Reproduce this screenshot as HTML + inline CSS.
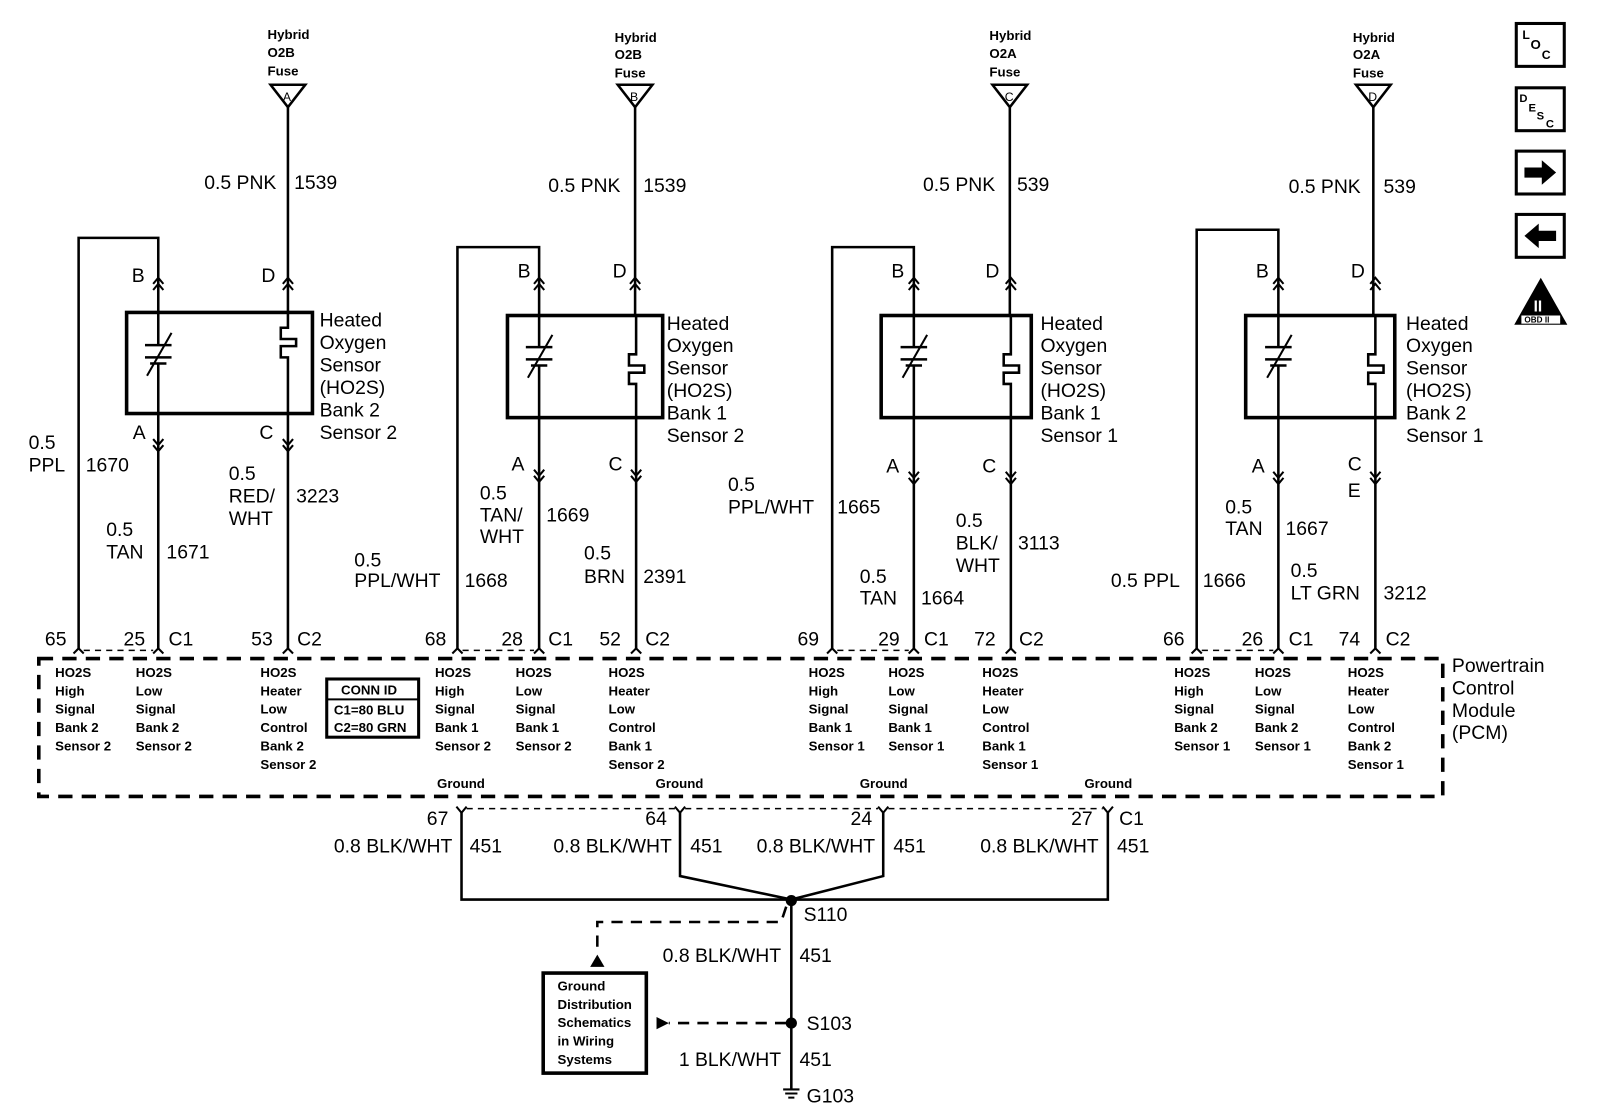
<!DOCTYPE html>
<html><head><meta charset="utf-8"><style>
html,body{margin:0;padding:0;background:#fff;}
svg{display:block;}
text{font-family:"Liberation Sans",Arial,sans-serif;fill:#000;}
.w{font-size:19px;}
.s{font-size:13px;font-weight:bold;}
.f{font-size:13px;font-weight:bold;}
</style></head><body>
<svg width="1600" height="1116" viewBox="0 0 1567 1093" preserveAspectRatio="none" xmlns="http://www.w3.org/2000/svg">
<g fill="none" stroke="#000" stroke-width="2.5">
<polygon points="265,83 299,83 282,105"/><line x1="282" y1="105" x2="282" y2="306"/>
<polygon points="605,83 639,83 622,105"/><line x1="622" y1="105" x2="622" y2="309"/>
<polygon points="972,83 1006,83 989,105"/><line x1="989" y1="105" x2="989" y2="309"/>
<polygon points="1328,83 1362,83 1345,105"/><line x1="1345" y1="105" x2="1345" y2="309"/>

<path d="M77,635 V233 H155 V272"/>
<rect x="124" y="306" width="182" height="99" stroke-width="3.5"/>
<path d="M155,272 V338 M142,338 H168 M142,350 H168 M147,356 H163 M155,356 V635"/>
<path d="M144,368 L168,326" stroke-width="2"/>
<path d="M282,306 V321 H275 V332 H290 V339 H275 V350 H282 V635"/>

<path d="M448,635 V242 H528 V272"/>
<rect x="497" y="309" width="152" height="100" stroke-width="3.5"/>
<path d="M528,272 V340 M515,340 H541 M515,352 H541 M520,358 H536 M528,358 V635"/>
<path d="M517,370 L541,328" stroke-width="2"/>
<path d="M623,309 V347 H616 V358 H631 V365 H616 V376 H623 V635"/>

<path d="M815,635 V242 H895 V272"/>
<rect x="863" y="309" width="147" height="100" stroke-width="3.5"/>
<path d="M895,272 V340 M882,340 H908 M882,352 H908 M887,358 H903 M895,358 V635"/>
<path d="M884,370 L908,328" stroke-width="2"/>
<path d="M990,309 V347 H983 V358 H998 V365 H983 V376 H990 V635"/>

<path d="M1172,635 V225 H1252 V272"/>
<rect x="1220" y="309" width="146" height="100" stroke-width="3.5"/>
<path d="M1252,272 V340 M1239,340 H1265 M1239,352 H1265 M1244,358 H1260 M1252,358 V635"/>
<path d="M1241,370 L1265,328" stroke-width="2"/>
<path d="M1347,309 V347 H1340 V358 H1355 V365 H1340 V376 H1347 V635"/>

<g stroke-width="2">
<path d="M150,278 l5,-6 5,6 M150,284 l5,-6 5,6 M277,278 l5,-6 5,6 M277,284 l5,-6 5,6"/>
<path d="M523,278 l5,-6 5,6 M523,284 l5,-6 5,6 M617,278 l5,-6 5,6 M617,284 l5,-6 5,6"/>
<path d="M890,278 l5,-6 5,6 M890,284 l5,-6 5,6 M985,278 l5,-6 5,6 M985,284 l5,-6 5,6"/>
<path d="M1247,278 l5,-6 5,6 M1247,284 l5,-6 5,6 M1342,278 l5,-6 5,6 M1342,284 l5,-6 5,6"/>
<path d="M150,430 l5,6 5,-6 M150,436 l5,6 5,-6 M277,430 l5,6 5,-6 M277,436 l5,6 5,-6"/>
<path d="M523,460 l5,6 5,-6 M523,466 l5,6 5,-6 M618,460 l5,6 5,-6 M618,466 l5,6 5,-6"/>
<path d="M890,462 l5,6 5,-6 M890,468 l5,6 5,-6 M985,462 l5,6 5,-6 M985,468 l5,6 5,-6"/>
<path d="M1247,462 l5,6 5,-6 M1247,468 l5,6 5,-6 M1342,462 l5,6 5,-6 M1342,468 l5,6 5,-6"/>
<path d="M72,640 l5,-5 5,5 M150,640 l5,-5 5,5 M277,640 l5,-5 5,5"/>
<path d="M443,640 l5,-5 5,5 M523,640 l5,-5 5,5 M618,640 l5,-5 5,5"/>
<path d="M810,640 l5,-5 5,5 M890,640 l5,-5 5,5 M985,640 l5,-5 5,5"/>
<path d="M1167,640 l5,-5 5,5 M1247,640 l5,-5 5,5 M1342,640 l5,-5 5,5"/>
<path d="M447,790 l5,6 5,-6 M661,790 l5,6 5,-6 M860,790 l5,6 5,-6 M1080,790 l5,6 5,-6"/>
</g>
<g stroke-width="1.5" stroke-dasharray="6,5">
<path d="M82,637 H150 M453,637 H523 M820,637 H890 M1177,637 H1247"/>
<path d="M457,792 H661 M671,792 H860 M870,792 H1080"/>
</g>
<rect x="38" y="645" width="1375" height="135" stroke-width="3.5" stroke-dasharray="14,9"/>
<rect x="320" y="665" width="90" height="57" stroke-width="3"/>
<line x1="320" y1="685" x2="410" y2="685" stroke-width="2"/>
<path d="M452,796 V881 H1085 V796"/>
<path d="M666,796 V858 L775,881 L865,858 V796"/>
<line x1="775" y1="881" x2="775" y2="1068"/>
<path d="M770,888 L765,903 H585 V935" stroke-width="2.5" stroke-dasharray="11,8"/>
<path d="M770,1002 H655" stroke-width="2.5" stroke-dasharray="11,8"/>
<rect x="532" y="953" width="101" height="98" stroke-width="3.5"/>
</g>
<g fill="#000">
<circle cx="775" cy="882" r="5.5"/><circle cx="775" cy="1002" r="5.5"/>
<polygon points="578,947 592,947 585,935"/>
<polygon points="643,996 643,1008 655,1002"/>
<path d="M767,1066 h16 v2 h-16z M769,1070 h12 v2 h-12z M772,1074 h6 v2 h-6z"/>
</g>
<g class="f">
<text x="262" y="38">Hybrid</text><text x="262" y="56">O2B</text><text x="262" y="74">Fuse</text><text x="277" y="99" font-size="12" font-weight="normal">A</text>
<text x="602" y="41">Hybrid</text><text x="602" y="58">O2B</text><text x="602" y="76">Fuse</text><text x="617" y="99" font-size="12" font-weight="normal">B</text>
<text x="969" y="39">Hybrid</text><text x="969" y="57">O2A</text><text x="969" y="75">Fuse</text><text x="984" y="99" font-size="12" font-weight="normal">C</text>
<text x="1325" y="41">Hybrid</text><text x="1325" y="58">O2A</text><text x="1325" y="76">Fuse</text><text x="1340" y="99" font-size="12" font-weight="normal">D</text>
</g>
<g class="w">
<text x="200" y="185">0.5 PNK</text><text x="288" y="185">1539</text>
<text x="537" y="188">0.5 PNK</text><text x="630" y="188">1539</text>
<text x="904" y="187">0.5 PNK</text><text x="996" y="187">539</text>
<text x="1262" y="189">0.5 PNK</text><text x="1355" y="189">539</text>

<text x="129" y="276">B</text><text x="256" y="276">D</text><text x="130" y="430">A</text><text x="254" y="430">C</text>
<text x="507" y="272">B</text><text x="600" y="272">D</text><text x="501" y="461">A</text><text x="596" y="461">C</text>
<text x="873" y="272">B</text><text x="965" y="272">D</text><text x="868" y="463">A</text><text x="962" y="463">C</text>
<text x="1230" y="272">B</text><text x="1323" y="272">D</text><text x="1226" y="463">A</text><text x="1320" y="461">C</text><text x="1320" y="487">E</text>

<text x="313" y="320">Heated</text><text x="313" y="342">Oxygen</text><text x="313" y="364">Sensor</text><text x="313" y="386">(HO2S)</text><text x="313" y="408">Bank 2</text><text x="313" y="430">Sensor 2</text>
<text x="653" y="323">Heated</text><text x="653" y="345">Oxygen</text><text x="653" y="367">Sensor</text><text x="653" y="389">(HO2S)</text><text x="653" y="411">Bank 1</text><text x="653" y="433">Sensor 2</text>
<text x="1019" y="323">Heated</text><text x="1019" y="345">Oxygen</text><text x="1019" y="367">Sensor</text><text x="1019" y="389">(HO2S)</text><text x="1019" y="411">Bank 1</text><text x="1019" y="433">Sensor 1</text>
<text x="1377" y="323">Heated</text><text x="1377" y="345">Oxygen</text><text x="1377" y="367">Sensor</text><text x="1377" y="389">(HO2S)</text><text x="1377" y="411">Bank 2</text><text x="1377" y="433">Sensor 1</text>

<text x="28" y="440">0.5</text><text x="28" y="462">PPL</text><text x="84" y="462">1670</text>
<text x="104" y="525">0.5</text><text x="104" y="547">TAN</text><text x="163" y="547">1671</text>
<text x="224" y="470">0.5</text><text x="224" y="492">RED/</text><text x="224" y="514">WHT</text><text x="290" y="492">3223</text>

<text x="470" y="489">0.5</text><text x="470" y="511">TAN/</text><text x="470" y="532">WHT</text><text x="535" y="511">1669</text>
<text x="347" y="555">0.5</text><text x="347" y="575">PPL/WHT</text><text x="455" y="575">1668</text>
<text x="572" y="548">0.5</text><text x="572" y="571">BRN</text><text x="630" y="571">2391</text>

<text x="713" y="481">0.5</text><text x="713" y="503">PPL/WHT</text><text x="820" y="503">1665</text>
<text x="936" y="516">0.5</text><text x="936" y="538">BLK/</text><text x="936" y="560">WHT</text><text x="997" y="538">3113</text>
<text x="842" y="571">0.5</text><text x="842" y="592">TAN</text><text x="902" y="592">1664</text>

<text x="1200" y="503">0.5</text><text x="1200" y="524">TAN</text><text x="1259" y="524">1667</text>
<text x="1088" y="575">0.5 PPL</text><text x="1178" y="575">1666</text>
<text x="1264" y="565">0.5</text><text x="1264" y="587">LT GRN</text><text x="1355" y="587">3212</text>

<text x="44" y="632">65</text><text x="121" y="632">25</text><text x="165" y="632">C1</text><text x="246" y="632">53</text><text x="291" y="632">C2</text>
<text x="416" y="632">68</text><text x="491" y="632">28</text><text x="537" y="632">C1</text><text x="587" y="632">52</text><text x="632" y="632">C2</text>
<text x="781" y="632">69</text><text x="860" y="632">29</text><text x="905" y="632">C1</text><text x="954" y="632">72</text><text x="998" y="632">C2</text>
<text x="1139" y="632">66</text><text x="1216" y="632">26</text><text x="1262" y="632">C1</text><text x="1311" y="632">74</text><text x="1357" y="632">C2</text>

<text x="1422" y="658">Powertrain</text><text x="1422" y="680">Control</text><text x="1422" y="702">Module</text><text x="1422" y="724">(PCM)</text>

<text x="418" y="808">67</text><text x="632" y="808">64</text><text x="833" y="808">24</text><text x="1049" y="808">27</text><text x="1096" y="808">C1</text>
<text x="443" y="835" text-anchor="end">0.8 BLK/WHT</text><text x="460" y="835">451</text>
<text x="658" y="835" text-anchor="end">0.8 BLK/WHT</text><text x="676" y="835">451</text>
<text x="857" y="835" text-anchor="end">0.8 BLK/WHT</text><text x="875" y="835">451</text>
<text x="1076" y="835" text-anchor="end">0.8 BLK/WHT</text><text x="1094" y="835">451</text>
<text x="787" y="902">S110</text>
<text x="765" y="942" text-anchor="end">0.8 BLK/WHT</text><text x="783" y="942">451</text>
<text x="790" y="1009">S103</text>
<text x="765" y="1044" text-anchor="end">1 BLK/WHT</text><text x="783" y="1044">451</text>
<text x="790" y="1080">G103</text>
</g>
<g class="s">
<text x="54" y="663">HO2S</text><text x="54" y="681">High</text><text x="54" y="699">Signal</text><text x="54" y="717">Bank 2</text><text x="54" y="735">Sensor 2</text>
<text x="133" y="663">HO2S</text><text x="133" y="681">Low</text><text x="133" y="699">Signal</text><text x="133" y="717">Bank 2</text><text x="133" y="735">Sensor 2</text>
<text x="255" y="663">HO2S</text><text x="255" y="681">Heater</text><text x="255" y="699">Low</text><text x="255" y="717">Control</text><text x="255" y="735">Bank 2</text><text x="255" y="753">Sensor 2</text>
<text x="334" y="680">CONN ID</text><text x="327" y="700">C1=80 BLU</text><text x="327" y="717">C2=80 GRN</text>
<text x="426" y="663">HO2S</text><text x="426" y="681">High</text><text x="426" y="699">Signal</text><text x="426" y="717">Bank 1</text><text x="426" y="735">Sensor 2</text>
<text x="505" y="663">HO2S</text><text x="505" y="681">Low</text><text x="505" y="699">Signal</text><text x="505" y="717">Bank 1</text><text x="505" y="735">Sensor 2</text>
<text x="596" y="663">HO2S</text><text x="596" y="681">Heater</text><text x="596" y="699">Low</text><text x="596" y="717">Control</text><text x="596" y="735">Bank 1</text><text x="596" y="753">Sensor 2</text>
<text x="792" y="663">HO2S</text><text x="792" y="681">High</text><text x="792" y="699">Signal</text><text x="792" y="717">Bank 1</text><text x="792" y="735">Sensor 1</text>
<text x="870" y="663">HO2S</text><text x="870" y="681">Low</text><text x="870" y="699">Signal</text><text x="870" y="717">Bank 1</text><text x="870" y="735">Sensor 1</text>
<text x="962" y="663">HO2S</text><text x="962" y="681">Heater</text><text x="962" y="699">Low</text><text x="962" y="717">Control</text><text x="962" y="735">Bank 1</text><text x="962" y="753">Sensor 1</text>
<text x="1150" y="663">HO2S</text><text x="1150" y="681">High</text><text x="1150" y="699">Signal</text><text x="1150" y="717">Bank 2</text><text x="1150" y="735">Sensor 1</text>
<text x="1229" y="663">HO2S</text><text x="1229" y="681">Low</text><text x="1229" y="699">Signal</text><text x="1229" y="717">Bank 2</text><text x="1229" y="735">Sensor 1</text>
<text x="1320" y="663">HO2S</text><text x="1320" y="681">Heater</text><text x="1320" y="699">Low</text><text x="1320" y="717">Control</text><text x="1320" y="735">Bank 2</text><text x="1320" y="753">Sensor 1</text>
<text x="428" y="772">Ground</text><text x="642" y="772">Ground</text><text x="842" y="772">Ground</text><text x="1062" y="772">Ground</text>
<text x="546" y="970">Ground</text><text x="546" y="988">Distribution</text><text x="546" y="1006">Schematics</text><text x="546" y="1024">in Wiring</text><text x="546" y="1042">Systems</text>
</g>
<g fill="none" stroke="#000" stroke-width="3">
<rect x="1485" y="23" width="47" height="42"/>
<rect x="1485" y="86" width="47" height="42"/>
<rect x="1485" y="148" width="47" height="42"/>
<rect x="1485" y="210" width="47" height="42"/>
</g>
<g fill="#000">
<polygon points="1493,164 1510,164 1510,157 1524,169 1510,181 1510,174 1493,174"/>
<polygon points="1524,226 1507,226 1507,219 1493,231 1507,243 1507,236 1524,236"/>
<polygon points="1509,272 1535,318 1483,318"/>
</g>
<g font-family="Liberation Sans" font-weight="bold">
<text x="1491" y="38" font-size="12">L</text><text x="1499" y="48" font-size="13">O</text><text x="1510" y="58" font-size="12">C</text>
<text x="1488" y="100" font-size="11">D</text><text x="1497" y="109" font-size="11">E</text><text x="1505" y="117" font-size="11">S</text><text x="1514" y="125" font-size="11">C</text>
<text x="1502" y="305" font-size="15" style="fill:#fff">II</text>
<rect x="1490" y="309" width="38" height="8" fill="#fff"/>
<text x="1493" y="316" font-size="8">OBD II</text>
</g>
</svg>
</body></html>
